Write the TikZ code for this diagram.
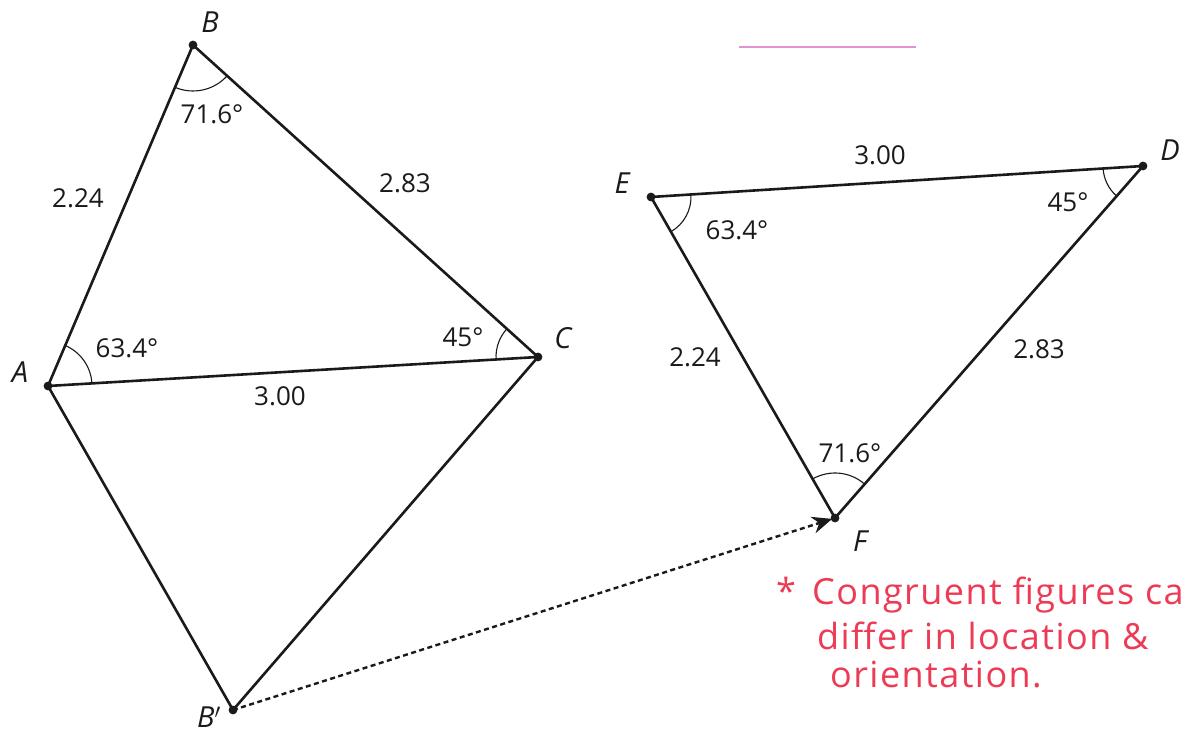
\documentclass[tikz,border=0pt]{standalone}
\usepackage{fontspec}
\setmainfont{Open Sans}
\newfontfamily\hand[LetterSpace=4]{Open Sans}
\usetikzlibrary{angles,arrows.meta}
\definecolor{ink}{HTML}{1A1A1A}
\definecolor{redpen}{HTML}{EE3B55}
\definecolor{pinkpen}{HTML}{DF93D2}
\tikzset{
  edge/.style={draw=ink, line width=2.6pt},
  arcmark/.style={draw=ink, line width=1.1pt},
  num/.style={font=\fontsize{26}{30}\selectfont, text=ink, inner sep=0pt},
  vlab/.style={font=\fontsize{29}{34}\selectfont\itshape, text=ink, inner sep=0pt},
  hw/.style={font=\hand\fontsize{36}{40}\selectfont, text=redpen, inner sep=0pt, anchor=base west},
  dot/.style={fill=ink}
}
\begin{document}
\begin{tikzpicture}[x=1pt,y=1pt]
\clip (0,0) rectangle (1183,736);
\fill[white] (0,0) rectangle (1183,736);
% vertices
\coordinate (A) at (48,350);
\coordinate (B) at (193,691);
\coordinate (C) at (538,379);
\coordinate (Bp) at (233,26);
\coordinate (E) at (651,539);
\coordinate (D) at (1143,570);
\coordinate (F) at (835,218);
% pink line
\coordinate (p1) at (739,689);
\coordinate (p2) at (916,689);
\draw[pinkpen, line width=2pt] (p1) -- (p2);
% edges
\draw[edge] (A) -- (B) -- (C) -- cycle;
\draw[edge] (A) -- (Bp) -- (C);
\draw[edge] (E) -- (D) -- (F) -- cycle;
% dotted arrow
\draw[ink, line width=2.4pt, dash pattern=on 5pt off 3.5pt, -{Stealth[length=20pt,width=17pt]}, shorten >=3pt] (Bp) -- (F);
% angle arcs
\pic[arcmark, angle radius=46pt] {angle = A--B--C};
\pic[arcmark, angle radius=44pt] {angle = C--A--B};
\pic[arcmark, angle radius=42pt] {angle = B--C--A};
\pic[arcmark, angle radius=40pt] {angle = F--E--D};
\pic[arcmark, angle radius=40pt] {angle = E--D--F};
\pic[arcmark, angle radius=45pt] {angle = D--F--E};
% dots
\foreach \p in {A,B,C,Bp,E,D,F} \fill[dot] (\p) circle (4.4pt);
% vertex labels
\node[vlab] (lB) at (210,714) {B};
\node[vlab] (lA) at (20,364) {A};
\node[vlab] (lC) at (563,398) {C};
\node[vlab] (lBp) at (209,19) {B$'$};
\node[vlab] (lD) at (1170,586) {D};
\node[vlab] (lE) at (622,553) {E};
\node[vlab] (lF) at (860,195) {F};
% measures
\node[num] (m1) at (212,622) {71.6°};
\node[num] (m2) at (78,538) {2.24};
\node[num] (m3) at (405,553) {2.83};
\node[num] (m4) at (127,388) {63.4°};
\node[num] (m5) at (463,399) {45°};
\node[num] (m6) at (280,340) {3.00};
\node[num] (m7) at (880,581) {3.00};
\node[num] (m8) at (1068,534) {45°};
\node[num] (m9) at (737,506) {63.4°};
\node[num] (m10) at (695,379) {2.24};
\node[num] (m11) at (1039,387) {2.83};
\node[num] (m12) at (850,283) {71.6°};
% handwritten note
\node[hw] (h0) at (776,131) {*};
\node[hw] (h1) at (812,131) {Congruent figures can};
\node[hw] (h2) at (817,86) {differ in location \&};
\node[hw] (h3) at (830,48) {orientation.};
\end{tikzpicture}
\end{document}
